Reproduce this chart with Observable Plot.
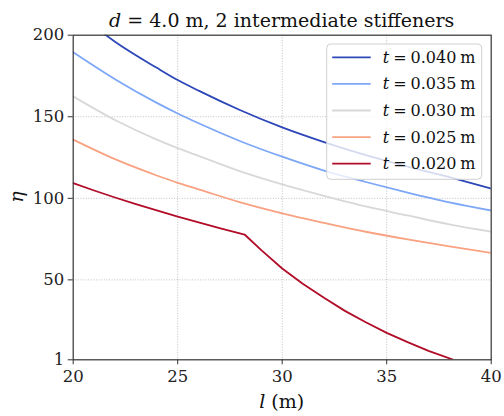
<!DOCTYPE html>
<html><head><meta charset="utf-8">
<script src="https://cdn.jsdelivr.net/npm/d3@7"></script>
<script src="https://cdn.jsdelivr.net/npm/@observablehq/plot@0.6"></script>
<style>body{margin:0;background:#fff} #chart{position:relative;width:504px;height:416px}
#chart svg text{font-family:"DejaVu Serif", serif !important}</style>
</head><body><div id="chart"></div>
<script>
// Data
const lSmooth = [20, 22, 24, 25, 26, 28, 30, 32, 34, 36, 38, 40];
const eta040 = [216, 196, 180, 172.5, 166, 154, 143.5, 134.5, 126.5, 119.5, 113, 106];
const eta035 = [189.5, 173, 158.5, 152, 146, 135, 125.5, 117, 110, 103.5, 97.5, 92.5];
const eta030 = [162.5, 148, 136, 130.8, 126, 116.5, 108.5, 101.5, 95, 89.5, 84, 79.5];
const eta025 = [136, 124, 114, 109.5, 105.5, 97.5, 90.8, 85, 79.5, 74.8, 70.5, 66.5];
const lRed = [20, 21, 22, 23, 24, 25, 26, 27, 28.2, 29, 30, 31, 32, 33, 34, 35, 36, 37, 38.2];
const eta020 = [109.3, 104.8, 100.5, 96.5, 92.6, 88.8, 85.2, 81.7, 77.8, 68.2, 57, 47.5, 39, 31, 24, 17.5, 11.8, 6.5, 1];

const seriesLabels = ["0.040", "0.035", "0.030", "0.025", "0.020"];
const seriesColors = ["#2d47b8", "#7da7f7", "#d8d8d8", "#f9a282", "#b10c28"];
const xTicks = [20, 25, 30, 35, 40];
const yTicks = [1, 50, 100, 150, 200];
const gridX = [25, 30, 35];
const gridY = [50, 100, 150];

const seriesData = [
  [seriesLabels[0], lSmooth, eta040],
  [seriesLabels[1], lSmooth, eta035],
  [seriesLabels[2], lSmooth, eta030],
  [seriesLabels[3], lSmooth, eta025],
  [seriesLabels[4], lRed, eta020]
];
const rows = seriesData.flatMap(([t, ls, es]) => ls.map((l, i) => ({t, l, eta: es[i]})));
const smoothRows = rows.filter(d => d.t !== "0.020");
const redRows = rows.filter(d => d.t === "0.020");

const font = "DejaVu Serif";
const plot = Plot.plot({
  width: 504, height: 416,
  marginLeft: 72.7, marginRight: 13.3, marginTop: 34.7, marginBottom: 56.7,
  x: {domain: [20, 40]},
  y: {domain: [1, 200]},
  color: {domain: seriesLabels, range: seriesColors},
  style: {fontFamily: font, fontSize: "16px", color: "#222", background: "white"},
  marks: [
    Plot.ruleX(gridX, {stroke: "#b0b0b0", strokeDasharray: "1,1.6", strokeWidth: 0.8}),
    Plot.ruleY(gridY, {stroke: "#b0b0b0", strokeDasharray: "1,1.6", strokeWidth: 0.8}),
    Plot.line(smoothRows, {x: "l", y: "eta", z: "t", stroke: "t", strokeWidth: 1.8, curve: "monotone-x", clip: true}),
    Plot.line(redRows, {x: "l", y: "eta", z: "t", stroke: "t", strokeWidth: 1.8, curve: "linear", clip: true}),
    Plot.frame({stroke: "#333", strokeWidth: 1.2}),
    Plot.axisX({ticks: xTicks, tickSize: 5, tickPadding: 5, label: null, fontSize: 16.5, stroke: "#333"}),
    Plot.axisY({ticks: yTicks, tickSize: 5, tickPadding: 4, label: null, fontSize: 16.5, stroke: "#333"})
  ]
});
document.getElementById("chart").appendChild(plot);

const sx = plot.scale("x"), sy = plot.scale("y");
const svg = d3.select(plot);
const x0 = sx.apply(20), x1 = sx.apply(40);
const yTop = sy.apply(200), yBot = sy.apply(1);

// Title
const title = svg.append("text").attr("x", (x0 + x1) / 2).attr("y", yTop - 8)
  .attr("text-anchor", "middle").attr("font-size", 19).attr("fill", "#111");
title.append("tspan").attr("font-style", "italic").text("d");
title.append("tspan").text(" = 4.0 m, 2 intermediate stiffeners");

// x label
const xl = svg.append("text").attr("x", (x0 + x1) / 2).attr("y", yBot + 49)
  .attr("text-anchor", "middle").attr("font-size", 19).attr("fill", "#111");
xl.append("tspan").attr("font-style", "italic").text("l");
xl.append("tspan").text(" (m)");

// y label
svg.append("text").attr("transform", `translate(${x0 - 50},${(yTop + yBot) / 2}) rotate(-90)`)
  .attr("text-anchor", "middle").attr("font-size", 19)
  .attr("font-style", "italic").attr("fill", "#111").text("η");

// Legend
const lg = svg.append("g");
const bx = x1 - 164, by = yTop + 9.3, bw = 155, bh = 135.3, rowH = 26.6;
lg.append("rect").attr("x", bx).attr("y", by).attr("width", bw).attr("height", bh)
  .attr("rx", 4).attr("fill", "white").attr("fill-opacity", 0.8).attr("stroke", "#d0d0d0").attr("stroke-width", 1);
seriesLabels.forEach((t, i) => {
  const yy = by + 13.3 + rowH * i;
  lg.append("line").attr("x1", bx + 5.5).attr("x2", bx + 44).attr("y1", yy).attr("y2", yy)
    .attr("stroke", seriesColors[i]).attr("stroke-width", 1.8);
  const tx = lg.append("text").attr("x", bx + 56).attr("y", yy + 5.5).attr("text-anchor", "start")
    .attr("font-size", 16).attr("fill", "#111");
  tx.append("tspan").attr("font-style", "italic").text("t");
  tx.append("tspan").attr("dx", 4).text("=");
  tx.append("tspan").attr("dx", 4).text(t);
  tx.append("tspan").attr("dx", 4).text("m");
});
</script></body></html>
